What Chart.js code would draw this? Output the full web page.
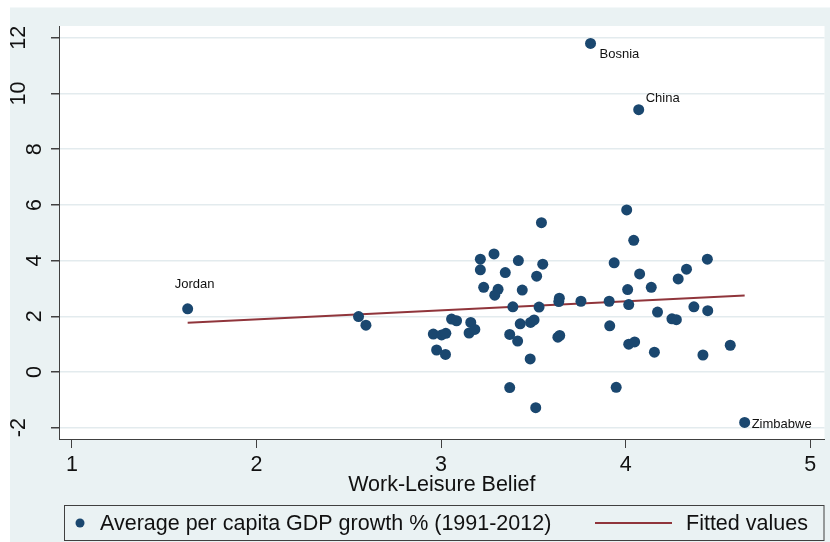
<!DOCTYPE html>
<html>
<head>
<meta charset="utf-8">
<script src="https://cdn.jsdelivr.net/npm/chart.js@4.4.1/dist/chart.umd.min.js"></script>
<style>
  html, body { margin: 0; padding: 0; background: #ffffff; }
  #wrap { width: 830px; height: 542px; position: relative; }
</style>
</head>
<body>
<div id="wrap"><canvas id="chart" width="830" height="542"></canvas></div>
<script>
// Work-leisure belief score (x) and average per capita GDP growth, 1991-2012 (y)
const workLeisure = [
  1.627, 2.553, 2.593, 2.958, 3.003, 3.026, 2.976, 3.024, 3.057, 3.084,
  3.161, 3.152, 3.183, 3.213, 3.213, 3.287, 3.231, 3.309, 3.291, 3.348,
  3.419, 3.440, 3.389, 3.429, 3.372, 3.415, 3.483, 3.372, 3.485, 3.504,
  3.544, 3.551, 3.518, 3.531, 3.513, 3.641, 3.638, 3.633, 3.643, 3.758,
  3.911, 3.914, 3.938, 3.949, 4.006, 4.044, 4.076, 4.011, 4.017, 4.017,
  4.049, 4.139, 4.173, 4.156, 4.251, 4.275, 4.285, 4.330, 4.443, 4.370,
  4.445, 4.419, 4.567, 4.645, 3.810, 4.071
];
const gdpGrowth = [
  2.27, 1.99, 1.68, 1.36, 1.33, 1.39, 0.79, 0.63, 1.90, 1.84,
  1.78, 1.40, 1.53, 4.05, 3.67, 4.24, 3.04, 2.97, 2.76, 3.57,
  4.00, 2.94, 2.34, 1.73, 1.35, 1.11, 0.47, -0.56, 1.78, 1.87,
  5.36, 3.87, 3.44, 2.33, -1.28, 2.65, 2.53, 1.25, 1.31, 2.54,
  2.54, 1.66, 3.92, -0.55, 5.82, 4.73, 3.52, 2.96, 2.42, 1.00,
  1.08, 3.04, 2.15, 0.71, 1.91, 1.88, 3.34, 3.69, 4.05, 2.34,
  2.20, 0.61, 0.96, -1.81, 11.80, 9.42
];
// Names shown next to selected countries ('' = unlabelled)
const countryNames = workLeisure.map(() => '');
countryNames[0] = 'Jordan';
countryNames[63] = 'Zimbabwe';
countryNames[64] = 'Bosnia';
countryNames[65] = 'China';
// Clock position of each name relative to its marker
const namePosition = { Jordan: 12, Zimbabwe: 3, Bosnia: 4, China: 2 };

// Linear fit endpoints
const fittedX = [1.627, 4.645];
const fittedY = [1.77, 2.75];

const xTicks = [1, 2, 3, 4, 5];
const yTicks = [-2, 0, 2, 4, 6, 8, 10, 12];
const seriesLabels = ['Average per capita GDP growth % (1991-2012)', 'Fitted values'];
const xTitle = 'Work-Leisure Belief';

const NAVY = '#1a476f';
const MAROON = '#90353b';
const PANEL = '#eaf2f3';
const INK = '#111111';
const AXIS = '#404040';
const FONT = "'Liberation Sans', Arial, sans-serif";
const TEXT_SIZE = 21.5;

const scatterPoints = workLeisure.map((x, i) => ({ x: x, y: gdpGrowth[i] }));
const fitPoints = fittedX.map((x, i) => ({ x: x, y: fittedY[i] }));

// Outer panel, white plot region
const backdrop = {
  id: 'backdrop',
  beforeDraw(chart) {
    const { ctx, chartArea: a } = chart;
    ctx.save();
    ctx.fillStyle = '#ffffff';
    ctx.fillRect(0, 0, chart.width, chart.height);
    ctx.fillStyle = PANEL;
    ctx.fillRect(10, 7.5, chart.width - 10, chart.height - 7.5);
    ctx.fillStyle = '#ffffff';
    ctx.fillRect(a.left, a.top, a.right - a.left, a.bottom - a.top);
    ctx.restore();
  }
};

// Country names beside their markers
const markerNames = {
  id: 'markerNames',
  afterDatasetsDraw(chart) {
    const { ctx } = chart;
    const meta = chart.getDatasetMeta(0);
    ctx.save();
    ctx.font = '13px ' + FONT;
    ctx.fillStyle = INK;
    countryNames.forEach((name, i) => {
      if (!name) return;
      const p = meta.data[i];
      const pos = namePosition[name];
      let x = p.x, y = p.y;
      if (pos === 12) { ctx.textAlign = 'center'; ctx.textBaseline = 'middle'; x += 7; y -= 24; }
      else if (pos === 3) { ctx.textAlign = 'left'; ctx.textBaseline = 'middle'; x += 7; y += 2; }
      else if (pos === 4) { ctx.textAlign = 'left'; ctx.textBaseline = 'middle'; x += 9; y += 11; }
      else if (pos === 2) { ctx.textAlign = 'left'; ctx.textBaseline = 'middle'; x += 7; y -= 11; }
      ctx.fillText(name, x, y);
    });
    ctx.restore();
  }
};

// Boxed legend row under the axis title
const boxedLegend = {
  id: 'boxedLegend',
  afterDraw(chart) {
    const { ctx, chartArea: a } = chart;
    const ds = chart.data.datasets;
    const top = 505, bottom = 541;
    const left = a.left + 5, right = a.right;
    const cy = (top + bottom) / 2;
    ctx.save();
    ctx.strokeStyle = AXIS;
    ctx.lineWidth = 1;
    ctx.strokeRect(left + 0.5, top + 0.5, right - left - 1, bottom - top - 1);
    ctx.font = TEXT_SIZE + 'px ' + FONT;
    ctx.fillStyle = INK;
    ctx.textBaseline = 'middle';
    ctx.textAlign = 'left';
    // scatter key
    ctx.beginPath();
    ctx.fillStyle = ds[0].backgroundColor;
    ctx.arc(80, cy, 4.5, 0, Math.PI * 2);
    ctx.fill();
    ctx.fillStyle = INK;
    ctx.fillText(ds[0].label, 100, cy + 1);
    // fit key
    ctx.strokeStyle = ds[1].borderColor;
    ctx.lineWidth = 2;
    ctx.beginPath();
    ctx.moveTo(595, cy);
    ctx.lineTo(672, cy);
    ctx.stroke();
    ctx.fillText(ds[1].label, 686, cy + 1);
    ctx.restore();
  }
};

new Chart(document.getElementById('chart'), {
  type: 'scatter',
  data: {
    datasets: [
      {
        label: seriesLabels[0],
        data: scatterPoints,
        backgroundColor: NAVY,
        borderColor: NAVY,
        borderWidth: 0,
        pointRadius: 5.5,
        pointHoverRadius: 5.5
      },
      {
        type: 'line',
        label: seriesLabels[1],
        data: fitPoints,
        borderColor: MAROON,
        backgroundColor: MAROON,
        borderWidth: 2,
        pointRadius: 0,
        fill: false,
        tension: 0
      }
    ]
  },
  options: {
    responsive: false,
    animation: false,
    layout: { padding: { left: 0, right: 2, top: 26, bottom: 42 } },
    plugins: {
      legend: { display: false },
      tooltip: { enabled: false }
    },
    scales: {
      x: {
        type: 'linear',
        min: 0.9299,
        max: 5.0777,
        afterBuildTicks: s => { s.ticks = xTicks.map(v => ({ value: v })); },
        afterFit: s => { s.height = 61; s.paddingLeft = 0; s.paddingRight = 0; },
        ticks: {
          autoSkip: false, maxRotation: 0, padding: 4,
          color: INK, font: { family: FONT, size: TEXT_SIZE }
        },
        grid: { drawOnChartArea: false, tickLength: 9, tickColor: AXIS, lineWidth: 1 },
        border: { color: AXIS, width: 1 },
        title: {
          display: true, text: xTitle, color: INK,
          font: { family: FONT, size: TEXT_SIZE },
          padding: { top: 0, bottom: 2 }
        }
      },
      y: {
        type: 'linear',
        min: -2.406,
        max: 12.424,
        afterBuildTicks: s => { s.ticks = yTicks.map(v => ({ value: v })); },
        afterFit: s => { s.width = 59; s.paddingTop = 0; s.paddingBottom = 0; },
        ticks: {
          autoSkip: false, minRotation: 90, maxRotation: 90,
          crossAlign: 'center', padding: 4,
          color: INK, font: { family: FONT, size: TEXT_SIZE, lineHeight: 32 / TEXT_SIZE },
          callback: v => (String(v).length > 1 ? [String(v), ''] : String(v))
        },
        grid: { color: '#e3ebee', lineWidth: 1.5, tickLength: 8, tickColor: AXIS },
        border: { color: AXIS, width: 1 }
      }
    }
  },
  plugins: [backdrop, markerNames, boxedLegend]
});
</script>
</body>
</html>
